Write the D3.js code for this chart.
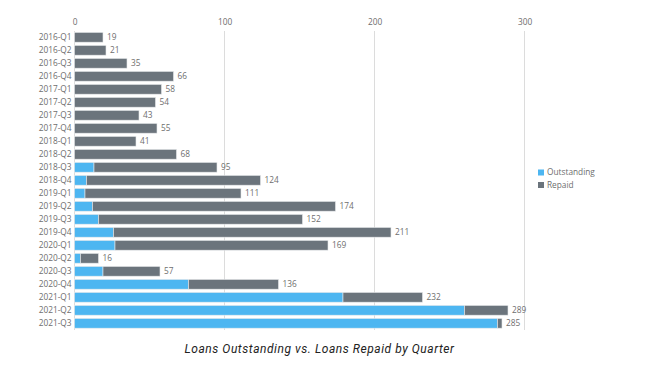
<!DOCTYPE html>
<html>
<head>
<meta charset="utf-8">
<script src="https://cdn.jsdelivr.net/npm/d3@7"></script>
<style>
  body { margin: 0; background: #fff; }
  text { font-family: "Open Sans", sans-serif; }
</style>
</head>
<body>
<script>
// data
var quarters = ["2016-Q1","2016-Q2","2016-Q3","2016-Q4","2017-Q1","2017-Q2","2017-Q3","2017-Q4",
  "2018-Q1","2018-Q2","2018-Q3","2018-Q4","2019-Q1","2019-Q2","2019-Q3","2019-Q4",
  "2020-Q1","2020-Q2","2020-Q3","2020-Q4","2021-Q1","2021-Q2","2021-Q3"];
var outstanding = [0,0,0,0,0,0,0,0,0,0,13,8,7,12,16,26,27,4,19,76,179,260,282];
var repaid = [19,21,35,66,58,54,43,55,41,68,82,116,104,162,136,185,142,12,38,60,53,29,3];
var xTicks = [0, 100, 200, 300];
var seriesNames = ["Outstanding", "Repaid"];
var colors = ["#4db6f1", "#6b747c"];

var svgWidth = 661, svgHeight = 373;
var labelSize = "8.3px";

var svg = d3.select("body")
  .append("svg")
  .attr("width", svgWidth)
  .attr("height", svgHeight);

var rows = quarters.map(function(q, i) {
  return { q: q, Outstanding: outstanding[i], Repaid: repaid[i] };
});

var x = d3.scaleLinear().domain([0, 300]).range([74.5, 524.5]);
var y = d3.scaleBand().domain(quarters).range([30.8, 329.8])
  .paddingInner(0.25).paddingOuter(0.125);

// gridlines
svg.append("g").selectAll("line")
  .data(xTicks)
  .enter().append("line")
  .attr("x1", d => x(d)).attr("x2", d => x(d))
  .attr("y1", 31).attr("y2", 330)
  .attr("stroke", "#dcdcdc")
  .attr("stroke-width", 1);

// top axis labels
var xAxis = d3.axisTop(x).tickValues(xTicks).tickSize(0).tickPadding(0);
svg.append("g")
  .attr("transform", "translate(0,25)")
  .call(xAxis)
  .call(g => g.select(".domain").remove())
  .call(g => g.selectAll("text").attr("fill", "#6e6e6e").style("font-size", labelSize).style("font-family", "Open Sans"));

// y axis labels
var yAxis = d3.axisLeft(y).tickSize(0).tickPadding(3);
svg.append("g")
  .attr("transform", "translate(74.5,0)")
  .call(yAxis)
  .call(g => g.select(".domain").remove())
  .call(g => g.selectAll("text").attr("fill", "#6e6e6e").style("font-size", labelSize).style("font-family", "Open Sans"));

// stacked bars
var stack = d3.stack().keys(seriesNames)(rows);
var color = d3.scaleOrdinal().domain(seriesNames).range(colors);

svg.append("g").selectAll("g")
  .data(stack)
  .enter().append("g")
  .attr("fill", d => color(d.key))
  .selectAll("rect")
  .data(d => d.filter(s => s[1] - s[0] > 0))
  .enter().append("rect")
  .attr("x", d => x(d[0]))
  .attr("y", d => y(d.data.q))
  .attr("width", d => x(d[1]) - x(d[0]))
  .attr("height", y.bandwidth())
  .attr("stroke", "#e8eaec")
  .attr("stroke-width", 0.6);

// total labels
svg.append("g").selectAll("text")
  .data(rows)
  .enter().append("text")
  .attr("x", d => x(d.Outstanding + d.Repaid) + 4)
  .attr("y", d => y(d.q) + y.bandwidth() / 2)
  .attr("dy", "0.35em")
  .attr("fill", "#6e6e6e")
  .style("font-size", labelSize)
  .text(d => d.Outstanding + d.Repaid);

// legend
var legend = svg.append("g").selectAll("g")
  .data(seriesNames)
  .enter().append("g")
  .attr("transform", (d, i) => `translate(538, ${172.5 + i * 12.5})`);

legend.append("rect")
  .attr("x", 0).attr("y", -3)
  .attr("width", 6).attr("height", 6)
  .attr("fill", d => color(d));

legend.append("text")
  .attr("x", 9)
  .attr("dy", "0.35em")
  .attr("fill", "#6e6e6e")
  .style("font-size", labelSize)
  .text(d => d);

// title
svg.append("text")
  .attr("x", 319.5)
  .attr("y", 352.5)
  .attr("text-anchor", "middle")
  .attr("fill", "#222")
  .style("font-family", "Roboto")
  .style("font-style", "italic")
  .style("font-size", "12px")
  .style("letter-spacing", "0.55px")
  .text("Loans Outstanding vs. Loans Repaid by Quarter");
</script>
</body>
</html>
